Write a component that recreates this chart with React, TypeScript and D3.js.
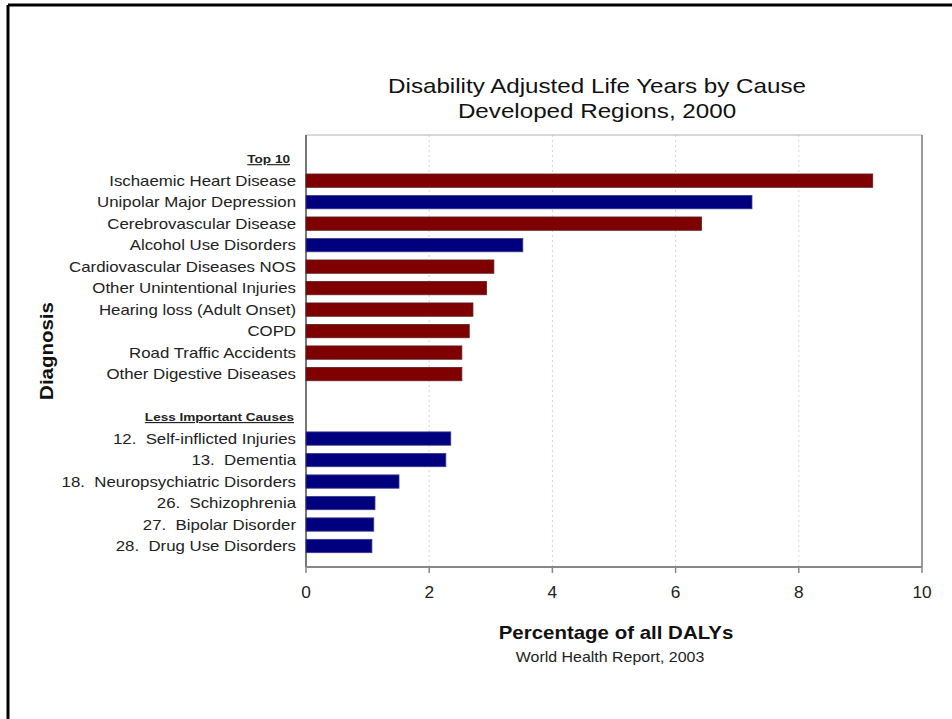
import React from "react";
import * as d3 from "d3";

// Row labels, top to bottom (headers and a spacer row included)
const topCauses = [
  "Ischaemic Heart Disease",
  "Unipolar Major Depression",
  "Cerebrovascular Disease",
  "Alcohol Use Disorders",
  "Cardiovascular Diseases NOS",
  "Other Unintentional Injuries",
  "Hearing loss (Adult Onset)",
  "COPD",
  "Road Traffic Accidents",
  "Other Digestive Diseases",
];
const topValues = [9.2, 7.24, 6.42, 3.52, 3.05, 2.93, 2.71, 2.65, 2.53, 2.53];
const topMental = [false, true, false, true, false, false, false, false, false, false];

const otherCauses = [
  "12.  Self-inflicted Injuries",
  "13.  Dementia",
  "18.  Neuropsychiatric Disorders",
  "26.  Schizophrenia",
  "27.  Bipolar Disorder",
  "28.  Drug Use Disorders",
];
const otherValues = [2.35, 2.27, 1.51, 1.12, 1.1, 1.07];

const xTicks = [0, 2, 4, 6, 8, 10];
const titleLines = ["Disability Adjusted Life Years by Cause", "Developed Regions, 2000"];

type Row = { key: string; label: string; value?: number; mental?: boolean; header?: boolean };

const rows: Row[] = [
  { key: "h1", label: "Top 10", header: true },
  ...topCauses.map((c, i) => ({ key: c, label: c, value: topValues[i], mental: topMental[i] })),
  { key: "gap", label: "" },
  { key: "h2", label: "Less Important Causes", header: true },
  ...otherCauses.map((c, i) => ({ key: c, label: c, value: otherValues[i], mental: true })),
];

const RED = "#7f0000";
const BLUE = "#00007f";
const FONT = "'Liberation Sans', Arial, sans-serif";

// Text drawn with a slightly widened face
function SText({
  x,
  y,
  sx = 1.16,
  rotate = 0,
  children,
  ...rest
}: {
  x: number;
  y: number;
  sx?: number;
  rotate?: number;
  children: React.ReactNode;
  [k: string]: any;
}) {
  return (
    <text
      transform={`translate(${x},${y}) rotate(${rotate}) scale(${sx},1)`}
      style={{ whiteSpace: "pre" }}
      {...rest}
    >
      {children}
    </text>
  );
}

export default function App() {
  const W = 952;
  const H = 719;
  const left = 306;
  const right = 922;
  const top = 135;
  const bottom = 567;

  const x = d3.scaleLinear().domain([0, 10]).range([left, right]);
  const y = d3
    .scaleBand<string>()
    .domain(rows.map((r) => r.key))
    .range([top, bottom])
    .paddingInner(0.38)
    .paddingOuter(0.74)
    .align(0.55);
  const bw = y.bandwidth();

  return (
    <svg
      width={W}
      height={H}
      style={{ position: "absolute", left: 0, top: 0, background: "#fff" }}
      fontFamily={FONT}
    >
      <rect x={0} y={0} width={W} height={H} fill="#fff" />
      {/* outer frame: top and left edges */}
      <line x1={8} y1={5} x2={W} y2={5} stroke="#000" strokeWidth={3} />
      <line x1={8} y1={5} x2={8} y2={H} stroke="#000" strokeWidth={3} />

      {/* title */}
      {titleLines.map((t, i) => (
        <SText key={t} x={597} y={93 + i * 25} sx={1.18} textAnchor="middle" fontSize={20.5} fill="#111">
          {t}
        </SText>
      ))}

      {/* gridlines */}
      {xTicks.slice(1, -1).map((t) => (
        <line
          key={t}
          x1={x(t)}
          x2={x(t)}
          y1={top}
          y2={bottom}
          stroke="#d4d4d4"
          strokeWidth={1}
          strokeDasharray="2,3"
        />
      ))}

      {/* plot frame */}
      <line x1={left} y1={top} x2={right} y2={top} stroke="#b0b0b0" strokeWidth={1} />
      <line x1={right} y1={top} x2={right} y2={bottom} stroke="#9a9a9a" strokeWidth={2} />
      <line x1={left} y1={top} x2={left} y2={bottom} stroke="#777" strokeWidth={2} />
      <line x1={left} y1={bottom} x2={right} y2={bottom} stroke="#888" strokeWidth={2} />

      {/* bars */}
      {rows
        .filter((r) => r.value !== undefined)
        .map((r) => (
          <rect
            key={r.key}
            x={x(0)}
            y={y(r.key)!}
            width={x(r.value!) - x(0)}
            height={bw}
            fill={r.mental ? BLUE : RED}
            stroke={r.mental ? "#3a3a8a" : "#5a2020"}
            strokeWidth={0.8}
          />
        ))}

      {/* row labels */}
      {rows.map((r) => {
        const cy = y(r.key)! + bw / 2;
        if (r.header) {
          return (
            <SText
              key={r.key}
              x={r.key === "h1" ? 290 : 294}
              y={cy}
              sx={1.18}
              dy="0.35em"
              textAnchor="end"
              fontSize={11.5}
              fontWeight="bold"
              textDecoration="underline"
              fill="#222"
            >
              {r.label}
            </SText>
          );
        }
        return (
          <SText
            key={r.key}
            x={296}
            y={cy}
            sx={1.16}
            dy="0.35em"
            textAnchor="end"
            fontSize={14.5}
            fill="#222"
          >
            {r.label}
          </SText>
        );
      })}

      {/* x axis ticks */}
      {xTicks.map((t) => (
        <g key={t}>
          <line x1={x(t)} x2={x(t)} y1={bottom} y2={bottom + 6} stroke="#888" strokeWidth={1.5} />
          <SText x={x(t)} y={598} sx={1.08} textAnchor="middle" fontSize={16} fill="#222">
            {t}
          </SText>
        </g>
      ))}

      {/* axis titles */}
      <SText x={616} y={639} sx={1.17} textAnchor="middle" fontSize={17.5} fontWeight="bold" fill="#111">
        Percentage of all DALYs
      </SText>
      <SText x={610} y={662} sx={1.14} textAnchor="middle" fontSize={14} fill="#222">
        World Health Report, 2003
      </SText>
      <SText x={53} y={351} sx={1.17} rotate={-90} textAnchor="middle" fontSize={17.5} fontWeight="bold" fill="#111">
        Diagnosis
      </SText>
    </svg>
  );
}
